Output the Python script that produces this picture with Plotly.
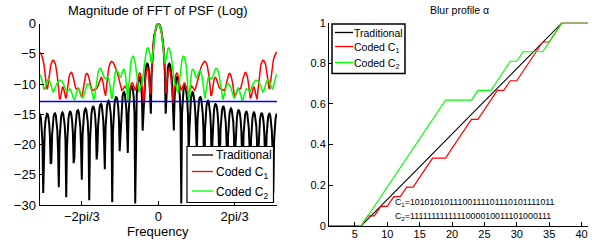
import numpy as np
import plotly.graph_objects as go

# ---------------- data ----------------
# exposure codes (printed on the right panel); traditional = box exposure
CODE_TRADITIONAL = "1111111111111111111111111111111"
CODE_C1 = "1010101011100111101110101111011"
CODE_C2 = "1111111111111000010011101000111"
FFT_LENGTH = 320            # frequency sampling of the spectrum
THRESHOLD_DB = -12.9        # blue horizontal line

FREQ_TICK_VALUES = [-2.02, 0.0, 2.02]
FREQ_TICK_LABELS = ["−2pi/3", "0", "2pi/3"]
DB_TICK_VALUES = [-30, -25, -20, -15, -10, -5, 0]

PIXELS = list(range(1, 42))
ALPHA_TRADITIONAL = [0, 0, 0, 0, 0, 0,
                     0.032, 0.065, 0.097, 0.129, 0.161, 0.194, 0.226, 0.258,
                     0.290, 0.323, 0.355, 0.387, 0.419, 0.452, 0.484, 0.516,
                     0.548, 0.581, 0.613, 0.645, 0.677, 0.710, 0.742, 0.774,
                     0.806, 0.839, 0.871, 0.903, 0.935, 0.968, 1.0,
                     1, 1, 1, 1]
ALPHA_C1 = [0, 0, 0, 0, 0, 0,
            0.048, 0.048, 0.095, 0.095, 0.143, 0.143, 0.190, 0.190,
            0.238, 0.286, 0.333, 0.333, 0.333, 0.381, 0.429, 0.476,
            0.524, 0.524, 0.571, 0.619, 0.667, 0.667, 0.714, 0.714,
            0.762, 0.810, 0.857, 0.905, 0.905, 0.952, 1.0,
            1, 1, 1, 1]
ALPHA_C2 = [0, 0, 0, 0, 0, 0,
            0.048, 0.095, 0.143, 0.190, 0.238, 0.286, 0.333, 0.381,
            0.429, 0.476, 0.524, 0.571, 0.619, 0.619, 0.619, 0.619,
            0.619, 0.667, 0.667, 0.667, 0.714, 0.762, 0.810, 0.810,
            0.857, 0.857, 0.857, 0.857, 0.905, 0.952, 1.0,
            1, 1, 1, 1]
PIXEL_TICKS = [5, 10, 15, 20, 25, 30, 35, 40]
ALPHA_TICKS = [0, 0.2, 0.4, 0.6, 0.8, 1]

NAMES = ["Traditional", "Coded C<sub>1</sub>", "Coded C<sub>2</sub>"]
COLORS = ["#000000", "#ff0000", "#00ff00"]


# ---------------- spectrum of each exposure code ----------------
def log_spectrum(code, length):
    c = np.array([int(b) for b in code], dtype=float)
    m = np.arange(-length // 2, length // 2 + 1)
    w = 2 * np.pi * m / length
    n = np.arange(len(c))
    F = np.abs(np.exp(-1j * np.outer(w, n)) @ c) / c.sum()
    return w, 10 * np.log10(np.maximum(F, 1e-12))


FONT = "Liberation Sans, Arial, Helvetica, sans-serif"
W, H = 592, 243


def px(x):
    return x / W


def py(y):
    return (H - y) / H


fig = go.Figure()

for code, name, col, lw in zip([CODE_TRADITIONAL, CODE_C1, CODE_C2], NAMES, COLORS, [2.0, 1.5, 1.5]):
    w, db = log_spectrum(code, FFT_LENGTH)
    fig.add_trace(go.Scatter(x=w, y=db, mode="lines", name=name,
                             line=dict(color=col, width=lw),
                             xaxis="x", yaxis="y", showlegend=False))

fig.add_trace(go.Scatter(x=[-np.pi, np.pi], y=[THRESHOLD_DB, THRESHOLD_DB], mode="lines",
                         line=dict(color="#0000ff", width=1.5), showlegend=False,
                         xaxis="x", yaxis="y"))

for alpha, name, col, lw in zip([ALPHA_TRADITIONAL, ALPHA_C1, ALPHA_C2], NAMES, COLORS, [1.1, 1.2, 1.2]):
    fig.add_trace(go.Scatter(x=PIXELS, y=alpha, mode="lines", name=name,
                             line=dict(color=col, width=lw),
                             xaxis="x2", yaxis="y2", showlegend=False))

axis_common = dict(showline=True, linecolor="black", linewidth=1, ticks="inside",
                   ticklen=4, tickcolor="black", showgrid=False, zeroline=False,
                   mirror=False, automargin=False)

shapes = []
annotations = [
    dict(text="Magnitude of FFT of PSF (Log)", x=px(158), y=py(10),
         xref="paper", yref="paper", showarrow=False, font=dict(size=13),
         xanchor="center", yanchor="middle"),
    dict(text="Frequency", x=px(158), y=py(231),
         xref="paper", yref="paper", showarrow=False, font=dict(size=13),
         xanchor="center", yanchor="middle"),
    dict(text="Blur profile α", x=px(459.5), y=py(10),
         xref="paper", yref="paper", showarrow=False, font=dict(size=10.5),
         xanchor="center", yanchor="middle"),
    dict(text="C<sub>1</sub>=" + CODE_C1, x=px(393), y=py(202),
         xref="paper", yref="paper", showarrow=False, font=dict(size=8.8),
         xanchor="left", yanchor="middle"),
    dict(text="C<sub>2</sub>=" + CODE_C2, x=px(393), y=py(216),
         xref="paper", yref="paper", showarrow=False, font=dict(size=8.8),
         xanchor="left", yanchor="middle"),
]


def add_legend(box, rows, line_x, text_x, size, border):
    x0, y0, x1, y1 = box
    shapes.append(dict(type="rect", xref="paper", yref="paper",
                       x0=px(x0), x1=px(x1), y0=py(y0), y1=py(y1),
                       line=dict(color="black", width=border), fillcolor="white"))
    for name, col, yy in zip(NAMES, COLORS, rows):
        shapes.append(dict(type="line", xref="paper", yref="paper",
                           x0=px(line_x[0]), x1=px(line_x[1]), y0=py(yy), y1=py(yy),
                           line=dict(color=col, width=1.3)))
        off = 1.5 if "<sub>" in name else 0
        annotations.append(dict(text=name, x=px(text_x), y=py(yy + off),
                                xref="paper", yref="paper", showarrow=False,
                                font=dict(size=size), xanchor="left", yanchor="middle"))


add_legend((187, 146.5, 273.5, 202.5), [155, 171.5, 191], (192, 213), 213.5, 12, 1.2)
add_legend((332, 24, 405, 73.5), [32.5, 46.5, 62.5], (335, 353), 352, 10.5, 1.5)

fig.update_layout(
    template="none",
    width=W, height=H, autosize=False,
    margin=dict(l=0, r=0, t=0, b=0, pad=0),
    paper_bgcolor="white", plot_bgcolor="white",
    font=dict(family=FONT, color="black"),
    showlegend=False,
    xaxis=dict(domain=[px(39.5), px(277)], range=[-np.pi, np.pi],
               tickvals=FREQ_TICK_VALUES, ticktext=FREQ_TICK_LABELS,
               tickfont=dict(size=13), anchor="y", ticklabelstandoff=-1,
               **axis_common),
    yaxis=dict(domain=[py(205), py(23.5)], range=[-30, 0],
               tickvals=DB_TICK_VALUES, tickfont=dict(size=13), anchor="x",
               **axis_common),
    xaxis2=dict(domain=[px(329), px(588)], range=[1, 41], tickvals=PIXEL_TICKS,
                tickfont=dict(size=11), anchor="y2", ticklabelstandoff=-2,
                **axis_common),
    yaxis2=dict(domain=[py(225.7), py(22.7)], range=[0, 1],
                tickvals=ALPHA_TICKS, tickfont=dict(size=11), anchor="x2",
                **axis_common),
    shapes=shapes,
    annotations=annotations,
)

fig.write_html("out.html", config={"displayModeBar": False},
               post_script="document.body.style.margin='0px';")
